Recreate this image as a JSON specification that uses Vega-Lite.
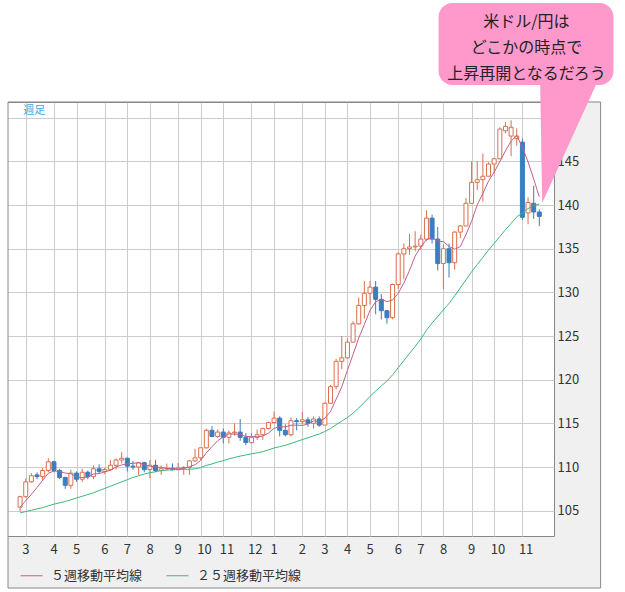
{
  "$schema": "https://vega.github.io/schema/vega-lite/v6.json",
  "width": 551,
  "height": 434,
  "autosize": {"type": "none"},
  "padding": {"left": 3, "top": 102, "right": 71, "bottom": 56},
  "background": "#f0f0f0",
  "config": {
    "font": "Noto Sans CJK JP",
    "view": {"fill": "#ffffff", "stroke": "#888888", "strokeWidth": 1}
  },
  "datasets": {
    "weekly": [
      {"date": "2021-02-22", "open": 105.4, "high": 106.7, "low": 104.9, "close": 106.6, "ma5": 105.42, "ma25": 104.75},
      {"date": "2021-03-01", "open": 106.6, "high": 108.7, "low": 106.5, "close": 108.3, "ma5": 106.14, "ma25": 104.9},
      {"date": "2021-03-08", "open": 108.3, "high": 109.3, "low": 108.2, "close": 109.0, "ma5": 106.86, "ma25": 105.05},
      {"date": "2021-03-15", "open": 109.1, "high": 109.4, "low": 108.6, "close": 108.9, "ma5": 107.65, "ma25": 105.2},
      {"date": "2021-03-22", "open": 108.9, "high": 109.9, "low": 108.4, "close": 109.6, "ma5": 108.48, "ma25": 105.35},
      {"date": "2021-03-29", "open": 109.6, "high": 111.0, "low": 109.4, "close": 110.6, "ma5": 109.28, "ma25": 105.55},
      {"date": "2021-04-05", "open": 110.6, "high": 110.7, "low": 109.4, "close": 109.6, "ma5": 109.54, "ma25": 105.75},
      {"date": "2021-04-12", "open": 109.6, "high": 109.8, "low": 108.6, "close": 108.8, "ma5": 109.5, "ma25": 105.9},
      {"date": "2021-04-19", "open": 108.8, "high": 108.9, "low": 107.5, "close": 107.9, "ma5": 109.3, "ma25": 106.05},
      {"date": "2021-04-26", "open": 107.9, "high": 109.7, "low": 107.5, "close": 109.3, "ma5": 109.24, "ma25": 106.25},
      {"date": "2021-05-03", "open": 109.3, "high": 109.5, "low": 108.3, "close": 108.6, "ma5": 108.84, "ma25": 106.45},
      {"date": "2021-05-10", "open": 108.6, "high": 109.8, "low": 108.3, "close": 109.4, "ma5": 108.8, "ma25": 106.65},
      {"date": "2021-05-17", "open": 109.4, "high": 109.6, "low": 108.6, "close": 108.9, "ma5": 108.82, "ma25": 106.85},
      {"date": "2021-05-24", "open": 108.9, "high": 110.2, "low": 108.6, "close": 109.8, "ma5": 109.2, "ma25": 107.05},
      {"date": "2021-05-31", "open": 109.8, "high": 110.3, "low": 109.2, "close": 109.5, "ma5": 109.24, "ma25": 107.3},
      {"date": "2021-06-07", "open": 109.5, "high": 109.9, "low": 109.2, "close": 109.7, "ma5": 109.46, "ma25": 107.55},
      {"date": "2021-06-14", "open": 109.7, "high": 110.8, "low": 109.6, "close": 110.2, "ma5": 109.62, "ma25": 107.8},
      {"date": "2021-06-21", "open": 110.2, "high": 111.0, "low": 109.7, "close": 110.8, "ma5": 110.0, "ma25": 108.05},
      {"date": "2021-06-28", "open": 110.8, "high": 111.7, "low": 110.4, "close": 111.0, "ma5": 110.24, "ma25": 108.3},
      {"date": "2021-07-05", "open": 111.0, "high": 111.1, "low": 109.5, "close": 110.1, "ma5": 110.36, "ma25": 108.55},
      {"date": "2021-07-12", "open": 110.1, "high": 110.7, "low": 109.7, "close": 110.0, "ma5": 110.42, "ma25": 108.8},
      {"date": "2021-07-19", "open": 110.0, "high": 110.6, "low": 109.1, "close": 110.5, "ma5": 110.48, "ma25": 109.0},
      {"date": "2021-07-26", "open": 110.5, "high": 110.6, "low": 109.4, "close": 109.7, "ma5": 110.26, "ma25": 109.2},
      {"date": "2021-08-02", "open": 109.7, "high": 110.8, "low": 108.7, "close": 110.2, "ma5": 110.1, "ma25": 109.35},
      {"date": "2021-08-09", "open": 110.2, "high": 110.8, "low": 109.4, "close": 109.6, "ma5": 110.0, "ma25": 109.46},
      {"date": "2021-08-16", "open": 109.6, "high": 110.2, "low": 109.1, "close": 109.8, "ma5": 109.96, "ma25": 109.59},
      {"date": "2021-08-23", "open": 109.8, "high": 110.4, "low": 109.6, "close": 109.85, "ma5": 109.83, "ma25": 109.65},
      {"date": "2021-08-30", "open": 109.85, "high": 110.4, "low": 109.6, "close": 109.7, "ma5": 109.83, "ma25": 109.68},
      {"date": "2021-09-06", "open": 109.7, "high": 110.45, "low": 109.6, "close": 109.9, "ma5": 109.77, "ma25": 109.72},
      {"date": "2021-09-13", "open": 109.9, "high": 110.1, "low": 109.1, "close": 109.95, "ma5": 109.84, "ma25": 109.74},
      {"date": "2021-09-20", "open": 109.95, "high": 110.8, "low": 109.1, "close": 110.7, "ma5": 110.02, "ma25": 109.74},
      {"date": "2021-09-27", "open": 110.7, "high": 112.1, "low": 110.6, "close": 111.05, "ma5": 110.26, "ma25": 109.8},
      {"date": "2021-10-04", "open": 111.05, "high": 112.2, "low": 110.8, "close": 112.2, "ma5": 110.76, "ma25": 109.93},
      {"date": "2021-10-11", "open": 112.2, "high": 114.4, "low": 112.1, "close": 114.2, "ma5": 111.62, "ma25": 110.19},
      {"date": "2021-10-18", "open": 114.2, "high": 114.7, "low": 113.4, "close": 113.5, "ma5": 112.33, "ma25": 110.35},
      {"date": "2021-10-25", "open": 113.5, "high": 114.3, "low": 113.3, "close": 114.0, "ma5": 112.99, "ma25": 110.57},
      {"date": "2021-11-01", "open": 114.0, "high": 114.4, "low": 112.7, "close": 113.4, "ma5": 113.46, "ma25": 110.73},
      {"date": "2021-11-08", "open": 113.4, "high": 114.2, "low": 112.7, "close": 113.9, "ma5": 113.8, "ma25": 110.93},
      {"date": "2021-11-15", "open": 113.9, "high": 115.0, "low": 113.6, "close": 114.0, "ma5": 113.76, "ma25": 111.1},
      {"date": "2021-11-22", "open": 114.0, "high": 115.5, "low": 113.0, "close": 113.4, "ma5": 113.74, "ma25": 111.25},
      {"date": "2021-11-29", "open": 113.4, "high": 113.9, "low": 112.5, "close": 112.8, "ma5": 113.5, "ma25": 111.38},
      {"date": "2021-12-06", "open": 112.8, "high": 113.9, "low": 112.7, "close": 113.4, "ma5": 113.5, "ma25": 111.51},
      {"date": "2021-12-13", "open": 113.4, "high": 114.3, "low": 113.1, "close": 113.7, "ma5": 113.46, "ma25": 111.62},
      {"date": "2021-12-20", "open": 113.7, "high": 114.5, "low": 113.1, "close": 114.4, "ma5": 113.54, "ma25": 111.76},
      {"date": "2021-12-27", "open": 114.4, "high": 115.2, "low": 114.3, "close": 115.1, "ma5": 113.88, "ma25": 111.96},
      {"date": "2022-01-03", "open": 115.1, "high": 116.35, "low": 115.0, "close": 115.6, "ma5": 114.44, "ma25": 112.18},
      {"date": "2022-01-10", "open": 115.6, "high": 115.8, "low": 113.5, "close": 114.2, "ma5": 114.6, "ma25": 112.33},
      {"date": "2022-01-17", "open": 114.2, "high": 114.9, "low": 113.5, "close": 113.7, "ma5": 114.6, "ma25": 112.49},
      {"date": "2022-01-24", "open": 113.7, "high": 115.7, "low": 113.5, "close": 115.3, "ma5": 114.78, "ma25": 112.69},
      {"date": "2022-01-31", "open": 115.3, "high": 115.6, "low": 114.2, "close": 115.2, "ma5": 114.8, "ma25": 112.92},
      {"date": "2022-02-07", "open": 115.2, "high": 116.3, "low": 114.9, "close": 115.4, "ma5": 114.76, "ma25": 113.14},
      {"date": "2022-02-14", "open": 115.4, "high": 115.7, "low": 114.6, "close": 115.0, "ma5": 114.92, "ma25": 113.35},
      {"date": "2022-02-21", "open": 115.0, "high": 115.8, "low": 114.4, "close": 115.5, "ma5": 115.28, "ma25": 113.58},
      {"date": "2022-02-28", "open": 115.5, "high": 115.8, "low": 114.6, "close": 114.8, "ma5": 115.18, "ma25": 113.78},
      {"date": "2022-03-07", "open": 114.8, "high": 117.4, "low": 114.8, "close": 117.3, "ma5": 115.6, "ma25": 114.07},
      {"date": "2022-03-14", "open": 117.3, "high": 119.4, "low": 117.3, "close": 119.2, "ma5": 116.36, "ma25": 114.41},
      {"date": "2022-03-21", "open": 119.2, "high": 122.4, "low": 118.9, "close": 122.1, "ma5": 117.78, "ma25": 114.85},
      {"date": "2022-03-28", "open": 122.1, "high": 125.0, "low": 121.2, "close": 122.5, "ma5": 119.18, "ma25": 115.26},
      {"date": "2022-04-04", "open": 122.5, "high": 124.7, "low": 122.4, "close": 124.3, "ma5": 121.08, "ma25": 115.67},
      {"date": "2022-04-11", "open": 124.3, "high": 126.7, "low": 124.3, "close": 126.4, "ma5": 122.9, "ma25": 116.18},
      {"date": "2022-04-18", "open": 126.4, "high": 129.4, "low": 126.3, "close": 128.5, "ma5": 124.76, "ma25": 116.76},
      {"date": "2022-04-25", "open": 128.5, "high": 131.3, "low": 127.0, "close": 129.9, "ma5": 126.32, "ma25": 117.42},
      {"date": "2022-05-02", "open": 129.9, "high": 131.3, "low": 128.6, "close": 130.6, "ma5": 127.94, "ma25": 118.09},
      {"date": "2022-05-09", "open": 130.6, "high": 131.3, "low": 127.5, "close": 129.2, "ma5": 128.92, "ma25": 118.7},
      {"date": "2022-05-16", "open": 129.2, "high": 129.8, "low": 126.9, "close": 127.9, "ma5": 129.22, "ma25": 119.28},
      {"date": "2022-05-23", "open": 127.9, "high": 128.0, "low": 126.4, "close": 127.1, "ma5": 128.94, "ma25": 119.85},
      {"date": "2022-05-30", "open": 127.1, "high": 131.0, "low": 126.9, "close": 130.9, "ma5": 129.14, "ma25": 120.55},
      {"date": "2022-06-06", "open": 130.9, "high": 134.6, "low": 130.4, "close": 134.4, "ma5": 129.9, "ma25": 121.38},
      {"date": "2022-06-13", "open": 134.4, "high": 135.6, "low": 131.5, "close": 135.0, "ma5": 131.06, "ma25": 122.2},
      {"date": "2022-06-20", "open": 135.0, "high": 136.7, "low": 134.3, "close": 135.2, "ma5": 132.52, "ma25": 123.01},
      {"date": "2022-06-27", "open": 135.2, "high": 137.0, "low": 134.7, "close": 135.3, "ma5": 134.16, "ma25": 123.8},
      {"date": "2022-07-04", "open": 135.3, "high": 136.6, "low": 134.9, "close": 136.1, "ma5": 135.2, "ma25": 124.67},
      {"date": "2022-07-11", "open": 136.1, "high": 139.4, "low": 135.9, "close": 138.5, "ma5": 136.02, "ma25": 125.66},
      {"date": "2022-07-18", "open": 138.5, "high": 138.9, "low": 135.6, "close": 136.1, "ma5": 136.24, "ma25": 126.5},
      {"date": "2022-07-25", "open": 136.1, "high": 137.5, "low": 132.5, "close": 133.3, "ma5": 135.86, "ma25": 127.22},
      {"date": "2022-08-01", "open": 133.3, "high": 135.5, "low": 130.4, "close": 135.0, "ma5": 135.8, "ma25": 128.0},
      {"date": "2022-08-08", "open": 135.0, "high": 135.6, "low": 131.7, "close": 133.4, "ma5": 135.26, "ma25": 128.74},
      {"date": "2022-08-15", "open": 133.4, "high": 137.0, "low": 132.6, "close": 136.9, "ma5": 134.94, "ma25": 129.6},
      {"date": "2022-08-22", "open": 136.9, "high": 137.7, "low": 136.2, "close": 137.6, "ma5": 135.24, "ma25": 130.51},
      {"date": "2022-08-29", "open": 137.6, "high": 140.8, "low": 137.6, "close": 140.2, "ma5": 136.62, "ma25": 131.42},
      {"date": "2022-09-05", "open": 140.2, "high": 145.0, "low": 140.2, "close": 142.6, "ma5": 138.14, "ma25": 132.36},
      {"date": "2022-09-12", "open": 142.6, "high": 145.0, "low": 141.7, "close": 142.9, "ma5": 140.04, "ma25": 133.19},
      {"date": "2022-09-19", "open": 142.9, "high": 145.9, "low": 140.4, "close": 143.3, "ma5": 141.32, "ma25": 134.02},
      {"date": "2022-09-26", "open": 143.3, "high": 144.9, "low": 143.3, "close": 144.7, "ma5": 142.74, "ma25": 134.84},
      {"date": "2022-10-03", "open": 144.7, "high": 145.4, "low": 143.6, "close": 145.3, "ma5": 143.76, "ma25": 135.6},
      {"date": "2022-10-10", "open": 145.3, "high": 148.9, "low": 145.3, "close": 148.7, "ma5": 144.98, "ma25": 136.4},
      {"date": "2022-10-17", "open": 148.5, "high": 149.5, "low": 148.2, "close": 149.0, "ma5": 146.2, "ma25": 137.17},
      {"date": "2022-10-24", "open": 147.9, "high": 149.7, "low": 145.6, "close": 148.9, "ma5": 147.32, "ma25": 137.9},
      {"date": "2022-10-31", "open": 147.6, "high": 148.8, "low": 146.8, "close": 147.9, "ma5": 147.96, "ma25": 138.65},
      {"date": "2022-11-07", "open": 147.2, "high": 147.6, "low": 138.3, "close": 138.6, "ma5": 146.62, "ma25": 139.08},
      {"date": "2022-11-14", "open": 139.1, "high": 140.9, "low": 137.8, "close": 140.3, "ma5": 144.94, "ma25": 139.6},
      {"date": "2022-11-21", "open": 140.2, "high": 142.2, "low": 138.4, "close": 139.2, "ma5": 142.98, "ma25": 139.94},
      {"date": "2022-11-28", "open": 139.2, "high": 139.5, "low": 137.6, "close": 138.7, "ma5": 140.94, "ma25": 140.11}
    ]
  },
  "data": {"name": "weekly"},
  "layer": [
    {
      "mark": {"type": "rule", "strokeWidth": 1},
      "encoding": {
        "x": {
          "field": "date",
          "type": "temporal",
          "scale": {
            "type": "utc",
            "domain": [
              {"year": 2021, "month": 2, "date": 7, "utc": true},
              {"year": 2022, "month": 12, "date": 10, "utc": true}
            ]
          },
          "axis": {
            "title": null,
            "values": [1614556800000, 1617580800000, 1620000000000, 1623024000000, 1625443200000, 1627862400000, 1630886400000, 1633305600000, 1635724800000, 1638748800000, 1641168000000, 1644192000000, 1646611200000, 1649030400000, 1651449600000, 1654473600000, 1656892800000, 1659312000000, 1662336000000, 1664755200000, 1667779200000],
            "tickCount": 100,
            "labelExpr": "utcFormat(datum.value, '%-m')",
            "labelAlign": "left",
            "labelOffset": -4,
            "ticks": false,
            "tickSize": 0,
            "domain": false,
            "grid": true,
            "gridColor": "#cccccc",
            "gridWidth": 1,
            "labelPadding": 7,
            "labelFontSize": 13,
            "labelColor": "#333333",
            "labelFont": "Noto Sans CJK JP",
            "labelFlush": false,
            "labelOverlap": false
          }
        },
        "y": {
          "field": "low",
          "type": "quantitative",
          "scale": {"domain": [102.1, 151.8], "nice": false, "zero": false},
          "axis": {
            "orient": "right",
            "title": null,
            "values": [105, 110, 115, 120, 125, 130, 135, 140, 145, 150],
            "format": "d",
            "ticks": false,
            "tickSize": 0,
            "domain": false,
            "grid": true,
            "gridColor": "#cccccc",
            "gridWidth": 1,
            "labelPadding": 3,
            "labelFontSize": 13,
            "labelColor": "#333333",
            "labelFont": "Noto Sans CJK JP",
            "labelFlush": false,
            "labelOverlap": false
          }
        },
        "y2": {"field": "high"},
        "color": {
          "condition": {"test": "datum.close >= datum.open", "value": "#d9704f"},
          "value": "#3b7dbf"
        }
      }
    },
    {
      "mark": {"type": "bar", "size": 4, "strokeWidth": 1},
      "encoding": {
        "x": {"field": "date", "type": "temporal"},
        "y": {"field": "open", "type": "quantitative"},
        "y2": {"field": "close"},
        "fill": {
          "condition": {"test": "datum.close >= datum.open", "value": "#ffffff"},
          "value": "#3b7dbf"
        },
        "stroke": {
          "condition": {"test": "datum.close >= datum.open", "value": "#d9704f"},
          "value": "#3b7dbf"
        }
      }
    },
    {
      "mark": {"type": "line", "strokeWidth": 1},
      "encoding": {
        "x": {"field": "date", "type": "temporal"},
        "y": {"field": "ma25", "type": "quantitative"},
        "color": {"datum": "２５週移動平均線", "type": "nominal"}
      }
    },
    {
      "mark": {"type": "line", "strokeWidth": 1},
      "encoding": {
        "x": {"field": "date", "type": "temporal"},
        "y": {"field": "ma5", "type": "quantitative"},
        "color": {
          "datum": "５週移動平均線",
          "type": "nominal",
          "scale": {
            "domain": ["５週移動平均線", "２５週移動平均線"],
            "range": ["#c0608a", "#3cb878"]
          },
          "legend": {
            "orient": "none",
            "legendX": 17,
            "legendY": 462,
            "direction": "horizontal",
            "title": null,
            "padding": 0,
            "symbolType": "stroke",
            "symbolSize": 484,
            "symbolStrokeWidth": 1,
            "labelFontSize": 13,
            "labelColor": "#333333",
            "labelFont": "Noto Sans CJK JP",
            "labelOffset": 8,
            "columnPadding": 21
          }
        }
      }
    },
    {
      "data": {"values": [{}]},
      "mark": {"type": "rect", "color": "#ffffff", "clip": false},
      "encoding": {
        "x": {"datum": {"year": 2020, "month": 12, "date": 1, "utc": true}, "type": "temporal"},
        "x2": {"datum": {"year": 2023, "month": 6, "date": 1, "utc": true}},
        "y": {"datum": 151.86, "type": "quantitative"},
        "y2": {"datum": 175}
      }
    },
    {
      "data": {"values": [{}]},
      "mark": {"type": "rect", "color": "#ffffff", "clip": false},
      "encoding": {
        "x": {"datum": {"year": 2023, "month": 2, "date": 12, "utc": true}, "type": "temporal"},
        "x2": {"datum": {"year": 2023, "month": 6, "date": 1, "utc": true}},
        "y": {"datum": 80, "type": "quantitative"},
        "y2": {"datum": 175}
      }
    },
    {
      "data": {"values": [{}]},
      "mark": {"type": "rect", "color": "#ffffff", "clip": false},
      "encoding": {
        "x": {"datum": {"year": 2020, "month": 12, "date": 1, "utc": true}, "type": "temporal"},
        "x2": {"datum": {"year": 2023, "month": 6, "date": 1, "utc": true}},
        "y": {"datum": 80, "type": "quantitative"},
        "y2": {"datum": 96.14}
      }
    },
    {
      "data": {"values": [{}]},
      "mark": {"type": "rect", "color": "#ffffff", "clip": false},
      "encoding": {
        "x": {"datum": {"year": 2020, "month": 12, "date": 1, "utc": true}, "type": "temporal"},
        "x2": {"datum": {"year": 2021, "month": 2, "date": 7, "utc": true}},
        "y": {"datum": 80, "type": "quantitative"},
        "y2": {"datum": 175}
      }
    },
    {
      "data": {"values": [{}]},
      "mark": {"type": "rect", "fillOpacity": 0, "stroke": "#888888", "strokeWidth": 1, "clip": false},
      "encoding": {
        "x": {"datum": {"year": 2021, "month": 2, "date": 7, "utc": true}, "type": "temporal"},
        "x2": {"datum": {"year": 2023, "month": 2, "date": 12, "utc": true}},
        "y": {"datum": 96.14, "type": "quantitative"},
        "y2": {"datum": 151.8}
      }
    },
    {
      "data": {"values": [{}]},
      "mark": {"type": "rect", "color": "#ff99cc", "cornerRadius": 14, "clip": false},
      "encoding": {
        "x": {"datum": {"year": 2022, "month": 7, "date": 26, "utc": true}, "type": "temporal"},
        "x2": {"datum": {"year": 2023, "month": 2, "date": 28, "utc": true}},
        "y": {"datum": 153.75, "type": "quantitative"},
        "y2": {"datum": 163.14}
      }
    },
    {
      "data": {"values": [{}]},
      "mark": {
        "type": "point",
        "shape": "M-0.472,-1L0.472,-1L-0.439,1Z",
        "size": 15129,
        "filled": true,
        "color": "#ff99cc",
        "opacity": 1,
        "strokeWidth": 0,
        "clip": false
      },
      "encoding": {
        "x": {"datum": {"year": 2023, "month": 1, "date": 4, "utc": true}, "type": "temporal"},
        "y": {"datum": 147.28, "type": "quantitative"}
      }
    },
    {
      "data": {"values": [{}]},
      "mark": {
        "type": "text",
        "text": ["米ドル/円は", "どこかの時点で", "上昇再開となるだろう"],
        "fontSize": 16,
        "lineHeight": 26,
        "align": "center",
        "baseline": "middle",
        "color": "#222222",
        "font": "Noto Sans CJK JP",
        "clip": false
      },
      "encoding": {
        "x": {"datum": {"year": 2022, "month": 11, "date": 12, "utc": true}, "type": "temporal"},
        "y": {"datum": 160.96, "type": "quantitative"}
      }
    },
    {
      "data": {"values": [{}]},
      "mark": {
        "type": "text",
        "text": "週足",
        "fontSize": 11,
        "align": "left",
        "baseline": "middle",
        "color": "#33aadd",
        "font": "Noto Sans CJK JP"
      },
      "encoding": {
        "x": {"datum": {"year": 2021, "month": 2, "date": 26, "utc": true}, "type": "temporal"},
        "y": {"datum": 150.77, "type": "quantitative"}
      }
    }
  ]
}
